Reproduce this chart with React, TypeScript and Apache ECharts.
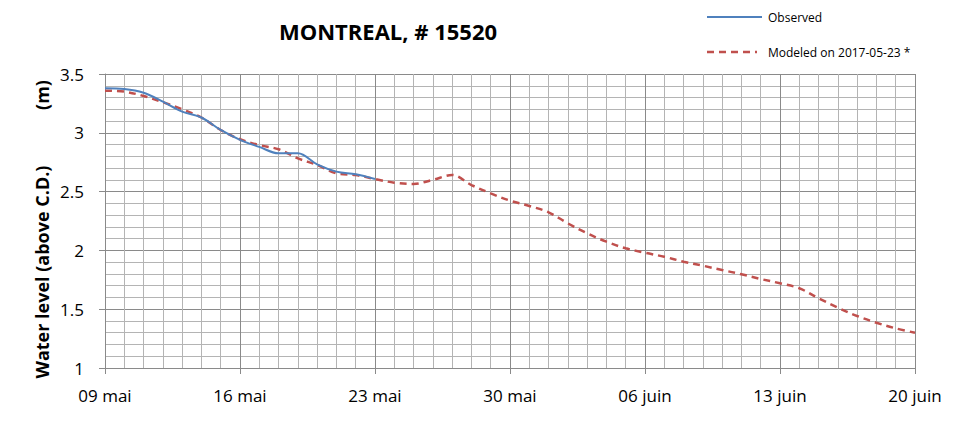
import React, { useEffect, useRef } from "react";
import * as echarts from "echarts";

const titleText = "MONTREAL, # 15520";
const xLabels = ["09 mai", "16 mai", "23 mai", "30 mai", "06 juin", "13 juin", "20 juin"];
const observedName = "Observed";
const modeledName = "Modeled on 2017-05-23 *";
// daily values starting 09 mai (day 0)
const observed = [3.378, 3.372, 3.34, 3.265, 3.18, 3.13, 3.024, 2.94, 2.88, 2.826, 2.826, 2.732, 2.67, 2.647, 2.607];
const modeled = [
  3.358, 3.35, 3.313, 3.26, 3.2, 3.13, 3.024, 2.945, 2.896, 2.86, 2.783, 2.726, 2.655, 2.641, 2.607,
  2.576, 2.565, 2.6, 2.641, 2.556, 2.485, 2.423, 2.378, 2.324, 2.23, 2.145, 2.074, 2.018, 1.98,
  1.946, 1.904, 1.87, 1.833, 1.797, 1.757, 1.72, 1.678, 1.593, 1.513, 1.442, 1.385, 1.337, 1.3,
];

const FONT = "'Open Sans', 'DejaVu Sans', sans-serif";
const BLUE = "#4F81BD";
const RED = "#C0504D";

export default function App() {
  const ref = useRef<HTMLDivElement>(null);
  useEffect(() => {
    if (!ref.current) return;
    const chart = echarts.init(ref.current, null, { renderer: "svg" });
    const majorColor = "#8a8a8a";
    const minorColor = "#b4b4b4";
    chart.setOption({
      animation: false,
      backgroundColor: "#ffffff",
      title: {
        text: titleText,
        left: 383,
        top: 15,
        textAlign: "center",
        textStyle: { fontFamily: FONT, fontWeight: "bold", fontSize: 22, color: "#000" },
      },
      legend: { show: false },
      grid: { left: 105, right: 54, top: 74, bottom: 53 },
      xAxis: {
        type: "value",
        min: 0,
        max: 42,
        interval: 7,
        axisLine: { show: true, lineStyle: { color: majorColor, width: 1 } },
        axisTick: { show: true, length: 6, lineStyle: { color: majorColor } },
        axisLabel: {
          margin: 19,
          fontFamily: FONT,
          fontSize: 17,
          color: "#000",
          formatter: (v: number) => xLabels[Math.round(v / 7)] ?? "",
        },
        splitLine: { show: true, lineStyle: { color: majorColor, width: 1 } },
        minorTick: { show: false, splitNumber: 7 },
        minorSplitLine: { show: true, lineStyle: { color: minorColor, width: 1 } },
      },
      yAxis: {
        type: "value",
        min: 1,
        max: 3.5,
        interval: 0.5,
        axisLine: { show: true, lineStyle: { color: majorColor, width: 1 } },
        axisTick: { show: true, length: 6, lineStyle: { color: majorColor } },
        axisLabel: { margin: 21, fontFamily: FONT, fontSize: 17, color: "#000" },
        splitLine: { show: true, lineStyle: { color: majorColor, width: 1 } },
        minorTick: { show: false, splitNumber: 5 },
        minorSplitLine: { show: true, lineStyle: { color: minorColor, width: 1 } },
      },
      graphic: [
        {
          type: "text",
          x: 42,
          y: 272,
          rotation: Math.PI / 2,
          style: {
            text: "Water level (above C.D.)",
            fontFamily: FONT,
            fontWeight: "bold",
            fontSize: 18,
            fill: "#000",
            align: "center",
            verticalAlign: "middle",
          },
        },
        {
          type: "text",
          x: 42,
          y: 95,
          rotation: Math.PI / 2,
          style: {
            text: "(m)",
            fontFamily: FONT,
            fontWeight: "bold",
            fontSize: 18,
            fill: "#000",
            align: "center",
            verticalAlign: "middle",
          },
        },
        {
          type: "line",
          shape: { x1: 707, y1: 17, x2: 762, y2: 17 },
          style: { stroke: BLUE, lineWidth: 2 },
        },
        {
          type: "text",
          x: 768,
          y: 17,
          style: {
            text: observedName,
            fontFamily: FONT,
            fontSize: 12,
            fill: "#000",
            align: "left",
            verticalAlign: "middle",
          },
        },
        {
          type: "line",
          shape: { x1: 707, y1: 52, x2: 757, y2: 52 },
          style: { stroke: RED, lineWidth: 2.5, lineDash: [7, 5] },
        },
        {
          type: "text",
          x: 768,
          y: 52,
          style: {
            text: modeledName,
            fontFamily: FONT,
            fontSize: 12,
            fill: "#000",
            align: "left",
            verticalAlign: "middle",
          },
        },
      ],
      series: [
        {
          name: modeledName,
          type: "line",
          data: modeled.map((v, i) => [i, v]),
          smooth: 0.35,
          symbol: "none",
          lineStyle: { color: RED, width: 2.5, type: [7, 5] },
          itemStyle: { color: RED },
          z: 2,
        },
        {
          name: observedName,
          type: "line",
          data: observed.map((v, i) => [i, v]),
          smooth: 0.35,
          symbol: "none",
          lineStyle: { color: BLUE, width: 2 },
          itemStyle: { color: BLUE },
          z: 3,
        },
      ],
    });
    return () => chart.dispose();
  }, []);
  return (
    <div
      ref={ref}
      style={{ position: "fixed", left: 0, top: 0, width: 969, height: 421, background: "#fff" }}
    />
  );
}
